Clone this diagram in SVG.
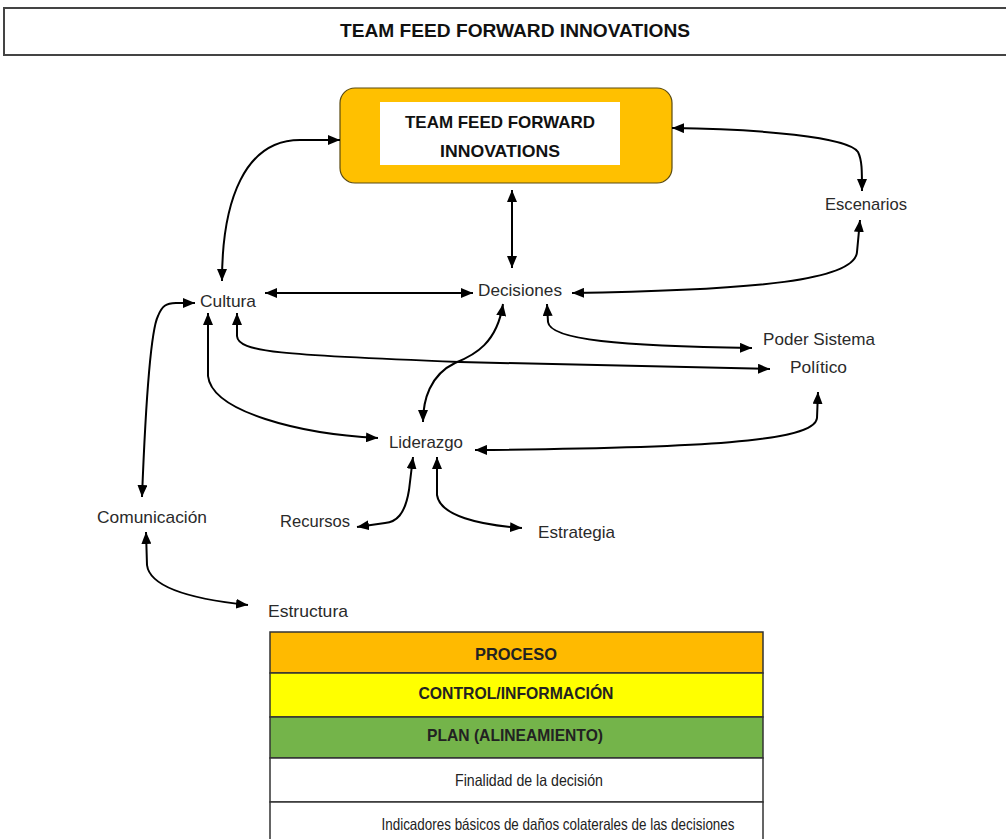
<svg xmlns="http://www.w3.org/2000/svg" width="1006" height="839" viewBox="0 0 1006 839">
  <style>
    .lbl { font-family: "Liberation Sans", Arial, sans-serif; font-size: 17px; fill: #2a2a2a; }
    .bold { font-family: "Liberation Sans", Arial, sans-serif; font-weight: bold; fill: #111; }
    .cell { font-family: "Liberation Sans", Arial, sans-serif; font-size: 16.5px; fill: #222; text-anchor: middle; }
    .conn { fill: none; stroke: #000; stroke-width: 2; marker-start: url(#head); marker-end: url(#head); }
    .row { stroke: #333; stroke-width: 1.5; }
  </style>
  <defs>
    <marker id="head" viewBox="0 0 12 10" refX="12" refY="5" markerWidth="12" markerHeight="10" markerUnits="userSpaceOnUse" orient="auto-start-reverse">
      <path d="M0,0 L12,5 L0,10 Z" fill="#000"/>
    </marker>
  </defs>

  <rect width="1006" height="839" fill="#fff"/>

  <!-- page title banner -->
  <g id="title">
    <rect x="4" y="8" width="1010" height="47" fill="#fff" stroke="#444" stroke-width="2"/>
    <text class="bold" x="515" y="37" font-size="17.5" text-anchor="middle" textLength="350" lengthAdjust="spacingAndGlyphs">TEAM FEED FORWARD INNOVATIONS</text>
  </g>

  <!-- central node -->
  <g id="node-team">
    <rect x="340" y="88" width="332" height="95" rx="15" fill="#FFC000" stroke="#5a4a10" stroke-width="1.2"/>
    <rect x="380" y="102" width="240" height="63" fill="#fff"/>
    <text class="bold" x="500" y="128" font-size="17" text-anchor="middle" textLength="190" lengthAdjust="spacingAndGlyphs">TEAM FEED FORWARD</text>
    <text class="bold" x="500" y="157" font-size="17" text-anchor="middle" textLength="120" lengthAdjust="spacingAndGlyphs">INNOVATIONS</text>
  </g>

  <g id="node-escenarios"><text class="lbl" x="825" y="210" textLength="82" lengthAdjust="spacingAndGlyphs">Escenarios</text></g>
  <g id="node-cultura"><text class="lbl" x="200" y="307" textLength="56" lengthAdjust="spacingAndGlyphs">Cultura</text></g>
  <g id="node-decisiones"><text class="lbl" x="478" y="296" textLength="84" lengthAdjust="spacingAndGlyphs">Decisiones</text></g>
  <g id="node-poder"><text class="lbl" x="763" y="345" textLength="112" lengthAdjust="spacingAndGlyphs">Poder Sistema</text></g>
  <g id="node-politico"><text class="lbl" x="790" y="373" textLength="57" lengthAdjust="spacingAndGlyphs">Político</text></g>
  <g id="node-liderazgo"><text class="lbl" x="389" y="448" textLength="74" lengthAdjust="spacingAndGlyphs">Liderazgo</text></g>
  <g id="node-comunicacion"><text class="lbl" x="97" y="523" textLength="110" lengthAdjust="spacingAndGlyphs">Comunicación</text></g>
  <g id="node-recursos"><text class="lbl" x="280" y="527" textLength="70" lengthAdjust="spacingAndGlyphs">Recursos</text></g>
  <g id="node-estrategia"><text class="lbl" x="538" y="538" textLength="77" lengthAdjust="spacingAndGlyphs">Estrategia</text></g>
  <g id="node-estructura"><text class="lbl" x="268" y="617" textLength="80" lengthAdjust="spacingAndGlyphs">Estructura</text></g>

  <!-- connectors: double-headed arrows -->
  <g id="connectors">
    <path class="conn" d="M512,190 L512,268"/>
    <path class="conn" d="M265,293 L473,293"/>
    <path class="conn" d="M222,281 C222,200 245,140 300,140 L340,140"/>
    <path class="conn" d="M672,128 C760,129 848,137 858,152 C862,160 862,170 862,191"/>
    <path class="conn" d="M860,220 L857,252 C855,280 760,290 572,293"/>
    <path class="conn" d="M547,304 L548,322 C550,340 620,346 752,348"/>
    <path class="conn" d="M237,313 L237,336 C238,352 280,355 460,362 L770,369"/>
    <path class="conn" d="M208,313 L208,376 C212,412 300,434 378,438"/>
    <path class="conn" d="M503,304 C497,343 475,355 455,363 C430,375 423,400 423,422"/>
    <path class="conn" d="M818,392 L817,418 C815,442 700,448 475,450"/>
    <path class="conn" d="M413,457 L409,490 C405,515 396,522 385,523 L357,527"/>
    <path class="conn" d="M437,457 L437,495 C440,516 480,525 522,528"/>
    <path class="conn" d="M142,497 C145,420 150,332 158,316 C162,306 166,303 176,303 L195,303"/>
    <path class="conn" d="M146,532 L147,565 C150,590 200,600 248,605"/>
  </g>

  <!-- legend table -->
  <g id="legend">
    <rect class="row" x="270" y="632" width="493" height="41" fill="#FFBA00"/>
    <rect class="row" x="270" y="673" width="493" height="44" fill="#FFFF00"/>
    <rect class="row" x="270" y="717" width="493" height="41" fill="#74B44A"/>
    <rect class="row" x="270" y="758" width="493" height="44" fill="#fff"/>
    <rect class="row" x="270" y="802" width="493" height="45" fill="#fff"/>
    <text class="cell" x="516" y="660" font-weight="bold" textLength="82" lengthAdjust="spacingAndGlyphs">PROCESO</text>
    <text class="cell" x="516" y="699" font-weight="bold" textLength="195" lengthAdjust="spacingAndGlyphs">CONTROL/INFORMACIÓN</text>
    <text class="cell" x="515" y="741" font-weight="bold" textLength="176" lengthAdjust="spacingAndGlyphs">PLAN (ALINEAMIENTO)</text>
    <text class="cell" x="529" y="786" textLength="148" lengthAdjust="spacingAndGlyphs">Finalidad de la decisión</text>
    <text class="cell" x="558" y="830" textLength="353" lengthAdjust="spacingAndGlyphs">Indicadores básicos de daños colaterales de las decisiones</text>
  </g>
</svg>
